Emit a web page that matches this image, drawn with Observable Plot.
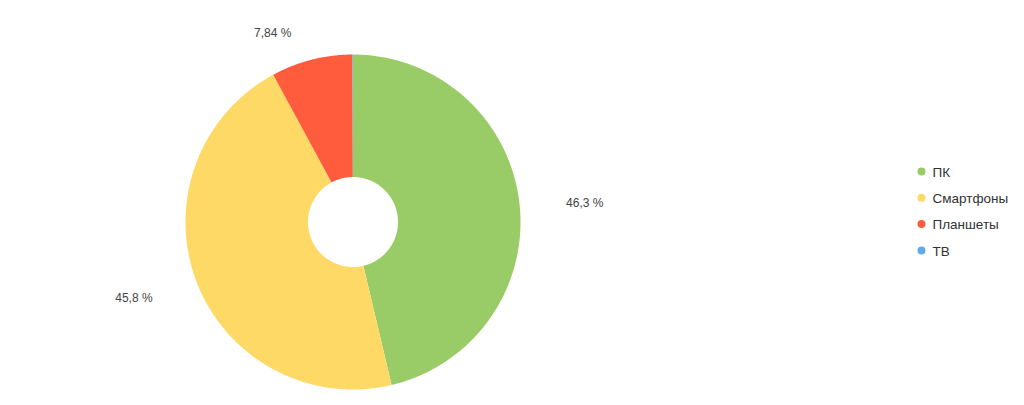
<!DOCTYPE html>
<html>
<head>
<meta charset="utf-8">
<script src="https://cdn.jsdelivr.net/npm/d3@7"></script>
<script src="https://cdn.jsdelivr.net/npm/@observablehq/plot@0.6"></script>
<style>
  html, body { margin: 0; padding: 0; background: #fff; }
  #chart svg { display: block; }
</style>
</head>
<body>
<div id="chart"></div>
<script>
// ---- data ----
const categories = ["ПК", "Смартфоны", "Планшеты", "ТВ"];
const shares = [46.3, 45.8, 7.84, 0.06];
const colors = ["#99cc66", "#ffd966", "#ff5c3d", "#65a8e6"];

// ---- layout ----
const W = 1024, H = 405;
const cx = 352.5, cy = 221.5, R = 167.5, r0 = 45;
const labA = 214.5, labB = 200;
const legX = 921, legY0 = 171, legDY = 26.3;

const total = d3.sum(shares);
const pie = d3.pie().sort(null).value(d => d)(shares);

// slice polygons
const polys = [];
pie.forEach((p, i) => {
  const n = Math.max(2, Math.ceil((p.endAngle - p.startAngle) / 0.01));
  for (let k = 0; k <= n; k++) {
    const a = p.startAngle + (p.endAngle - p.startAngle) * k / n;
    polys.push({name: categories[i], x: cx + R * Math.sin(a), y: cy - R * Math.cos(a)});
  }
  for (let k = n; k >= 0; k--) {
    const a = p.startAngle + (p.endAngle - p.startAngle) * k / n;
    polys.push({name: categories[i], x: cx + r0 * Math.sin(a), y: cy - r0 * Math.cos(a)});
  }
});

// labels
const labs = pie.filter(p => p.value / total > 0.01).map(p => {
  const a = (p.startAngle + p.endAngle) / 2;
  const s = Math.sin(a);
  return {
    text: String(p.value).replace(".", ",") + " %",
    x: cx + labA * s * (Math.abs(s) < 0.5 ? 1.16 : 1),
    y: cy - labB * Math.cos(a),
    anchor: s >= 0 ? "start" : "end"
  };
});

const legend = categories.map((c, i) => ({name: c, x: legX, y: legY0 + i * legDY}));

const chart = Plot.plot({
  width: W,
  height: H,
  margin: 0,
  style: {fontFamily: "'Liberation Sans', Arial, sans-serif", background: "#fff"},
  x: {domain: [0, W], range: [0, W], axis: null},
  y: {domain: [0, H], range: [0, H], axis: null},
  color: {domain: categories, range: colors},
  marks: [
    Plot.line(polys, {x: "x", y: "y", z: "name", fill: "name", stroke: "none", curve: "linear-closed"}),
    Plot.text(labs.filter(d => d.anchor === "start"), {x: "x", y: "y", dy: 4.5, text: "text", textAnchor: "start", fill: "#444", fontSize: 12}),
    Plot.text(labs.filter(d => d.anchor === "end"), {x: "x", y: "y", dy: 4.5, text: "text", textAnchor: "end", fill: "#444", fontSize: 12}),
    Plot.dot(legend, {x: "x", y: "y", fill: "name", r: 4, stroke: "none"}),
    Plot.text(legend, {x: d => d.x + 11, y: "y", dy: 1, text: "name", textAnchor: "start", fill: "#333", fontSize: 13.5})
  ]
});
document.getElementById("chart").appendChild(chart);
</script>
</body>
</html>
